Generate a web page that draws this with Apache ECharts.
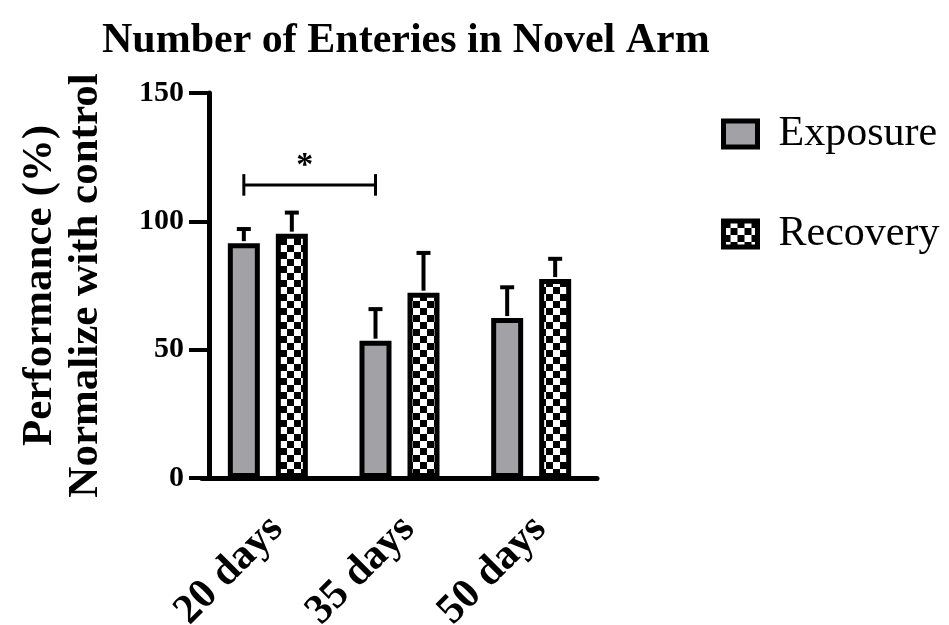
<!DOCTYPE html>
<html>
<head>
<meta charset="utf-8">
<script src="https://cdn.jsdelivr.net/npm/echarts@6/dist/echarts.min.js"></script>
<style>
html,body{margin:0;padding:0;background:#fff;}
#chart{width:949px;height:625px;}
</style>
</head>
<body>
<div id="chart"></div>
<script>
const categories = ['20 days', '35 days', '50 days'];
const exposure = [91.5, 53.5, 62.3];
const exposureErr = [5.5, 12.3, 12.0];
const recovery = [95.2, 72.2, 77.5];
const recoveryErr = [8.2, 15.5, 7.9];
const yTicks = [0, 50, 100, 150];
// significance bracket: [fromCategory, toCategory, height, tickHalf, label]
const significance = [[0, 1, 114.2, 4.2, '*']];

const FONT = '"Liberation Serif", "Times New Roman", serif';
const BAR_W = 32;
const BAR_GAP = 0.5;
const OFF = (BAR_W + BAR_W * BAR_GAP) / 2;

// checkerboard pattern
const CELL = 7;
const pc = document.createElement('canvas');
pc.width = CELL * 2; pc.height = CELL * 2;
const pctx = pc.getContext('2d');
pctx.fillStyle = '#fff'; pctx.fillRect(0, 0, CELL * 2, CELL * 2);
pctx.fillStyle = '#000'; pctx.fillRect(0, 0, CELL, CELL); pctx.fillRect(CELL, CELL, CELL, CELL);

const errData = [];
exposure.forEach((v, i) => errData.push([i, v, v + exposureErr[i], 0]));
recovery.forEach((v, i) => errData.push([i, v, v + recoveryErr[i], 1]));

const chart = echarts.init(document.getElementById('chart'));
chart.setOption({
  animation: false,
  backgroundColor: '#fff',
  title: {
    text: 'Number of Enteries in Novel Arm',
    left: 97, top: 15,
    textStyle: {fontFamily: FONT, fontWeight: 'bold', fontSize: 42, color: '#000'}
  },
  legend: {
    orient: 'vertical',
    left: 721, top: 113,
    padding: 0,
    icon: 'rect',
    itemWidth: 34, itemHeight: 26,
    itemGap: 58,
    textStyle: {fontFamily: FONT, fontSize: 42, color: '#000', padding: [0, 0, 0, 16]},
    itemStyle: {borderColor: '#000', borderWidth: 5},
    data: ['Exposure', 'Recovery']
  },
  grid: {left: 202, right: 352, top: 93, bottom: 147, containLabel: false, outerBoundsMode: 'none'},
  xAxis: {
    type: 'category',
    data: categories,
    axisLine: {lineStyle: {color: '#000', width: 5}},
    axisTick: {alignWithLabel: true, length: 17, lineStyle: {color: '#000', width: 4}},
    axisLabel: {rotate: 45, interval: 0, margin: 36, verticalAlign: 'top', lineHeight: 25,
      color: '#000', fontFamily: FONT, fontWeight: 'bold', fontSize: 42}
  },
  yAxis: {
    type: 'value',
    min: 0, max: 150, interval: 50,
    offset: -7,
    name: 'Performance (%)\nNormalize with control',
    nameLocation: 'middle',
    nameRotate: 90,
    nameGap: 100,
    nameTextStyle: {fontFamily: FONT, fontWeight: 'bold', fontSize: 43, color: '#000', lineHeight: 46},
    axisLine: {show: true, lineStyle: {color: '#000', width: 5}},
    axisTick: {show: true, length: 20, lineStyle: {color: '#000', width: 4}},
    axisLabel: {margin: 25, color: '#000', fontFamily: FONT, fontWeight: 'bold', fontSize: 30,
      formatter: v => yTicks.indexOf(v) >= 0 ? String(v) : ''},
    splitLine: {show: false}
  },
  series: [
    {
      name: 'Exposure', type: 'bar', data: exposure,
      barWidth: BAR_W, barGap: (BAR_GAP * 100) + '%',
      itemStyle: {color: '#a2a1a6', borderColor: '#000', borderWidth: 5},
      z: 2
    },
    {
      name: 'Recovery', type: 'bar', data: recovery,
      barWidth: BAR_W, barGap: (BAR_GAP * 100) + '%',
      itemStyle: {color: {image: pc, repeat: 'repeat'}, borderColor: '#000', borderWidth: 5},
      z: 2
    },
    {
      type: 'custom', name: 'err', data: errData, z: 3,
      encode: {x: 0, y: [1, 2]},
      renderItem: function (params, api) {
        const s = api.value(3);
        const dx = s === 0 ? -OFF : OFF;
        const p0 = api.coord([api.value(0), api.value(1)]);
        const p1 = api.coord([api.value(0), api.value(2)]);
        const x = p0[0] + dx;
        return {
          type: 'group',
          children: [
            {type: 'line', shape: {x1: x, y1: p0[1] - 2, x2: x, y2: p1[1]}, style: {stroke: '#000', lineWidth: 4}},
            {type: 'line', shape: {x1: x - 7, y1: p1[1], x2: x + 7, y2: p1[1]}, style: {stroke: '#000', lineWidth: 4}}
          ]
        };
      }
    },
    {
      type: 'custom', name: 'sig', data: significance, z: 3,
      encode: {x: 0, y: 2},
      renderItem: function (params, api) {
        const a = api.value(0), b = api.value(1), h = api.value(2), t = api.value(3);
        const pa = api.coord([a, h]);
        const pb = api.coord([b, h]);
        const ptop = api.coord([a, h + t]);
        const pbot = api.coord([a, h - t]);
        const xa = pa[0] - OFF, xb = pb[0] - OFF;
        return {
          type: 'group',
          children: [
            {type: 'line', shape: {x1: xa, y1: pa[1], x2: xb, y2: pa[1]}, style: {stroke: '#000', lineWidth: 3}},
            {type: 'line', shape: {x1: xa, y1: ptop[1], x2: xa, y2: pbot[1]}, style: {stroke: '#000', lineWidth: 3}},
            {type: 'line', shape: {x1: xb, y1: ptop[1], x2: xb, y2: pbot[1]}, style: {stroke: '#000', lineWidth: 3}},
            {type: 'text', style: {text: significance[params.dataIndex][4], x: (xa + xb) / 2 - 5, y: pa[1] - 2,
              textAlign: 'center', textVerticalAlign: 'bottom', fontFamily: FONT, fontWeight: 'bold', fontSize: 34, fill: '#000'}}
          ]
        };
      }
    }
  ]
});
</script>
</body>
</html>
